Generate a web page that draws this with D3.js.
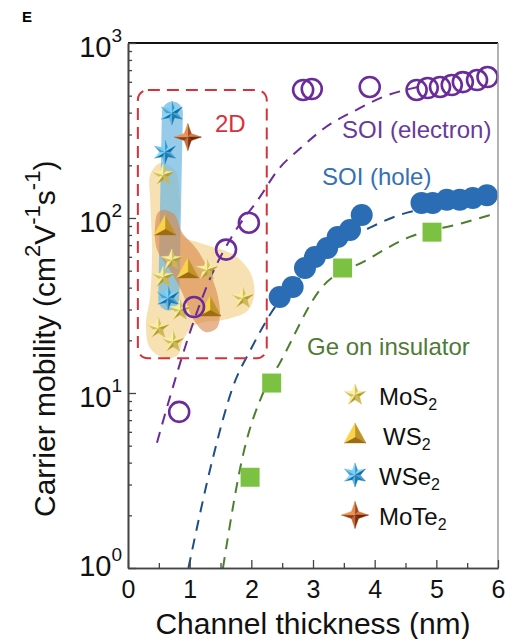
<!DOCTYPE html>
<html lang="en">
  <head>
    <meta charset="UTF-8" />
    <title>Carrier mobility vs channel thickness</title>
    <script src="https://cdn.jsdelivr.net/npm/d3@7"></script>
    <style>
      body { margin: 0; background: #fff; }
      svg text { font-family: "Liberation Sans", Arial, sans-serif; }
    </style>
  </head>
  <body>
    <div id="chart"></div>
    <script>
      // ---- data (x: nm, y: cm2/Vs) ----
      const xTicks = [0, 1, 2, 3, 4, 5, 6];
      const yTicks = [1, 10, 100, 1000];

      const soiElectron = [[0.83, 7.8], [1.07, 31], [1.59, 66], [1.96, 94], [2.84, 539], [2.98, 546],
        [3.92, 561], [4.68, 539], [4.86, 553], [5.06, 561], [5.25, 575], [5.43, 598], [5.66, 614], [5.83, 639]];
      const soiHole = [[2.46, 35.4], [2.67, 40.3], [2.87, 51.8], [3.03, 59.8], [3.23, 67.4], [3.4, 77.9],
        [3.6, 85.4], [3.79, 104], [4.76, 122], [4.94, 122], [5.17, 127], [5.38, 127], [5.59, 130], [5.82, 135]];
      const geOnInsulator = [[1.98, 3.3], [2.33, 11.4], [3.48, 51.8], [4.93, 83]];

      // dashed guide curves
      const electronFit = [[0.47, 5.2], [0.7, 10], [1.0, 22], [1.33, 45], [1.7, 80], [2.14, 132], [2.43, 188],
        [2.8, 251], [3.21, 331], [3.7, 414], [4.13, 491], [4.7, 560]];
      const holeFit = [[0.98, 1.0], [1.38, 4.3], [1.7, 10.8], [2.0, 18], [2.33, 29], [2.8, 46], [3.3, 66],
        [3.95, 89], [4.4, 104], [5.0, 116], [5.9, 128]];
      const geFit = [[1.54, 1.0], [1.87, 4.5], [2.19, 10], [2.46, 14.8], [3.11, 38.8], [3.87, 57.5],
        [4.57, 78], [5.43, 93.6], [5.87, 104]];

      // 2D materials
      const mos2 = [[0.57, 176], [0.71, 57.5], [0.57, 46], [1.28, 50.5], [0.84, 29.8], [1.86, 34.9], [0.49, 23.5], [0.73, 19.6]];
      const ws2 = [[0.6, 88.9], [0.97, 50.5], [1.33, 30.6]];
      const wse2 = [[0.71, 398], [0.6, 238], [0.65, 34.9]];
      const mote2 = [[0.97, 290]];

      // shaded ranges behind the 2D points
      const mos2Region = [[0.52, 206], [0.76, 188], [0.84, 127], [0.875, 80], [1.17, 72], [1.7, 62], [1.98, 49],
        [2.05, 37], [1.94, 29.5], [1.62, 26.5], [1.09, 24.5], [0.89, 20], [0.81, 16.5], [0.6, 15.8], [0.36, 18],
        [0.29, 24.5], [0.36, 36], [0.39, 66], [0.36, 127], [0.36, 176]];
      const wse2Band = [[0.72, 403], [0.66, 34]];
      const ws2Region = [[0.6, 111], [0.76, 104], [0.875, 83], [1.12, 66], [1.38, 44], [1.49, 29.8], [1.44, 23.5],
        [1.25, 22.3], [1.05, 26.8], [0.875, 37.8], [0.68, 50.5], [0.47, 66], [0.44, 91], [0.49, 108]];
      const box2D = [[0.16, 539], [2.25, 15.8]];

      const legendNames = ["MoS2", "WS2", "WSe2", "MoTe2"];

      // ---- layout ----
      const W = 514, H = 639;
      const margin = { top: 43, right: 16, bottom: 71, left: 128 };
      const width = W - margin.left - margin.right;
      const height = H - margin.top - margin.bottom;

      const svg = d3.select("#chart").append("svg").attr("width", W).attr("height", H);
      const g = svg.append("g").attr("transform", `translate(${margin.left},${margin.top})`);

      const x = d3.scaleLinear().domain([0, 6]).range([0, width]);
      const y = d3.scaleLog().domain([1, 1000]).range([height, 0]);

      const px = (d) => [x(d[0]), y(d[1])];

      // ---- shaded regions ----
      const blob = d3.line().curve(d3.curveCatmullRomClosed.alpha(0.5));
      g.append("path").attr("d", blob(mos2Region.map(px)))
        .attr("fill", "#f2cf82").attr("opacity", 0.62);
      g.append("path").attr("d", d3.line()(wse2Band.map(px)))
        .attr("stroke", "#6db7e0").attr("stroke-width", 21).attr("stroke-linecap", "round")
        .attr("fill", "none").attr("opacity", 0.72);
      g.append("path").attr("d", blob(ws2Region.map(px)))
        .attr("fill", "#d9884a").attr("opacity", 0.62);

      // ---- dashed guide curves ----
      const fitLine = d3.line().x((d) => x(d[0])).y((d) => y(d[1])).curve(d3.curveMonotoneX);
      [[electronFit, "#6a2c9a"], [holeFit, "#1f4f86"], [geFit, "#4d7f2e"]].forEach(([data, c]) => {
        g.append("path").attr("d", fitLine(data)).attr("fill", "none")
          .attr("stroke", c).attr("stroke-width", 2).attr("stroke-dasharray", "11 8");
      });

      // ---- 2D dashed box ----
      g.append("rect")
        .attr("x", x(box2D[0][0])).attr("y", y(box2D[0][1]))
        .attr("width", x(box2D[1][0]) - x(box2D[0][0]))
        .attr("height", y(box2D[1][1]) - y(box2D[0][1]))
        .attr("rx", 10).attr("fill", "none")
        .attr("stroke", "#d8303c").attr("stroke-width", 2).attr("stroke-dasharray", "12 7");

      // ---- bulk markers ----
      g.selectAll(".hole").data(soiHole).enter().append("circle")
        .attr("cx", (d) => x(d[0])).attr("cy", (d) => y(d[1])).attr("r", 11)
        .attr("fill", "#2b6db4");
      g.selectAll(".ge").data(geOnInsulator).enter().append("rect")
        .attr("x", (d) => x(d[0]) - 9.5).attr("y", (d) => y(d[1]) - 9.5)
        .attr("width", 19).attr("height", 19).attr("fill", "#7cc242");

      // ---- 3D-looking 2D markers ----
      const light = [-0.6, -0.8];
      const styles = {
        MoS2: { dark: "#b39b2e", light: "#fff6a8", shape: () => star(5, 11, 4.8) },
        WS2: { dark: "#93600a", light: "#ffd850", shape: () => ({ v: [[0, -12], [11, 8], [-11, 8]], c: [0, 2] }) },
        WSe2: { dark: "#0d6aa3", light: "#86dbff", shape: () => star(6, 12, 5.4) },
        MoTe2: { dark: "#6f2606", light: "#f29454", shape: () => star(4, 13.5, 5) },
      };
      function star(n, R, r) {
        const v = d3.range(2 * n).map((k) => {
          const a = -Math.PI / 2 + (k * Math.PI) / n;
          const rr = k % 2 ? r : R;
          return [rr * Math.cos(a), rr * Math.sin(a)];
        });
        return { v, c: [0, 0] };
      }
      function drawMarker(parent, type, cx, cy) {
        const st = styles[type];
        const { v, c } = st.shape();
        const mg = parent.append("g").attr("transform", `translate(${cx},${cy})`);
        v.forEach((p, i) => {
          const q = v[(i + 1) % v.length];
          let nx = q[1] - p[1], ny = -(q[0] - p[0]);
          const len = Math.hypot(nx, ny);
          nx /= len; ny /= len;
          const mx = (p[0] + q[0]) / 2 - c[0], my = (p[1] + q[1]) / 2 - c[1];
          if (nx * mx + ny * my < 0) { nx = -nx; ny = -ny; }
          const t = (1 + nx * light[0] + ny * light[1]) / 2;
          const col = d3.interpolateRgb(st.dark, st.light)(t);
          mg.append("path").attr("d", `M${c[0]},${c[1]}L${p[0]},${p[1]}L${q[0]},${q[1]}Z`)
            .attr("fill", col).attr("stroke", col).attr("stroke-width", 0.4);
        });
      }
      [[mos2, "MoS2"], [ws2, "WS2"], [wse2, "WSe2"], [mote2, "MoTe2"]].forEach(([data, type]) => {
        data.forEach((d) => drawMarker(g, type, x(d[0]), y(d[1])));
      });

      g.selectAll(".elec").data(soiElectron).enter().append("circle")
        .attr("cx", (d) => x(d[0])).attr("cy", (d) => y(d[1])).attr("r", 10)
        .attr("fill", "none").attr("stroke", "#6a2c9a").attr("stroke-width", 2.6);

      // ---- frame and axes ----
      g.append("line").attr("x1", 0).attr("x2", width).attr("y1", 0).attr("y2", 0)
        .attr("stroke", "#111").attr("stroke-width", 2);
      g.append("line").attr("x1", width).attr("x2", width).attr("y1", 0).attr("y2", height)
        .attr("stroke", "#999").attr("stroke-width", 1.5);

      g.append("g").attr("transform", `translate(0,${height})`)
        .call(d3.axisBottom(x).tickValues(d3.range(0.5, 6, 1)).tickSizeInner(-5).tickSizeOuter(0).tickFormat(""));
      const xAxis = g.append("g").attr("transform", `translate(0,${height})`)
        .call(d3.axisBottom(x).tickValues(xTicks).tickSizeInner(-8).tickSizeOuter(0).tickPadding(12)
          .tickFormat(d3.format("d")));
      xAxis.selectAll("text").attr("font-size", 25).attr("fill", "#111");

      const minorY = [];
      for (let dec = 1; dec < 1000; dec *= 10) for (let k = 2; k <= 9; k++) minorY.push(dec * k);
      g.append("g").call(d3.axisLeft(y).tickValues(minorY).tickSizeInner(-4).tickSizeOuter(0).tickFormat(""));
      const yAxis = g.append("g")
        .call(d3.axisLeft(y).tickValues(yTicks).tickSizeInner(-8).tickSizeOuter(0).tickPadding(6).tickFormat(""));
      yAxis.selectAll(".tick text").each(function (d) {
        const t = d3.select(this).attr("fill", "#111").attr("font-size", 29)
          .attr("dy", d === 1 ? "0.25em" : "0.45em");
        t.append("tspan").text("10");
        t.append("tspan").attr("font-size", 19).attr("dy", -15).text(Math.round(Math.log10(d)));
      });
      g.selectAll(".domain").attr("stroke", "#444").attr("stroke-width", 1.6);
      g.selectAll(".tick line").attr("stroke", "#444").attr("stroke-width", 1.3);

      // ---- titles and annotations ----
      svg.append("text").attr("x", 22).attr("y", 22).attr("font-size", 15).attr("font-weight", "bold").text("E");

      svg.append("text").attr("x", margin.left + width / 2).attr("y", 634)
        .attr("text-anchor", "middle").attr("font-size", 30).attr("fill", "#111")
        .text("Channel thickness (nm)");

      const yt = svg.append("text").attr("transform", "translate(55,517) rotate(-90)")
        .attr("font-size", 30).attr("fill", "#111");
      yt.append("tspan").text("Carrier mobility (cm");
      yt.append("tspan").attr("font-size", 22).attr("dy", -15).text("2");
      yt.append("tspan").attr("dy", 15).text("V");
      yt.append("tspan").attr("font-size", 22).attr("dy", -15).text("-1");
      yt.append("tspan").attr("dy", 15).text("s");
      yt.append("tspan").attr("font-size", 22).attr("dy", -15).text("-1");
      yt.append("tspan").attr("dy", 15).text(")");

      const note = (tx, ty, txt, c) => svg.append("text").attr("x", tx).attr("y", ty)
        .attr("font-size", 24).attr("fill", c).text(txt);
      note(215, 132, "2D", "#d8303c");
      note(342, 138, "SOI (electron)", "#6a3a98");
      note(322, 185, "SOI (hole)", "#3470b2");
      note(307, 355, "Ge on insulator", "#4f7a36");

      // ---- legend ----
      const lg = svg.append("g");
      legendNames.forEach((name, i) => {
        const ly = 395 + i * 40;
        drawMarker(lg, name, 355, ly);
        const t = lg.append("text").attr("x", name === "WS2" ? 383 : 379).attr("y", ly + 10)
          .attr("font-size", 24).attr("fill", "#111");
        t.append("tspan").text(name.slice(0, -1));
        t.append("tspan").attr("font-size", 16).attr("dy", 5).text(name.slice(-1));
      });
    </script>
  </body>
</html>
